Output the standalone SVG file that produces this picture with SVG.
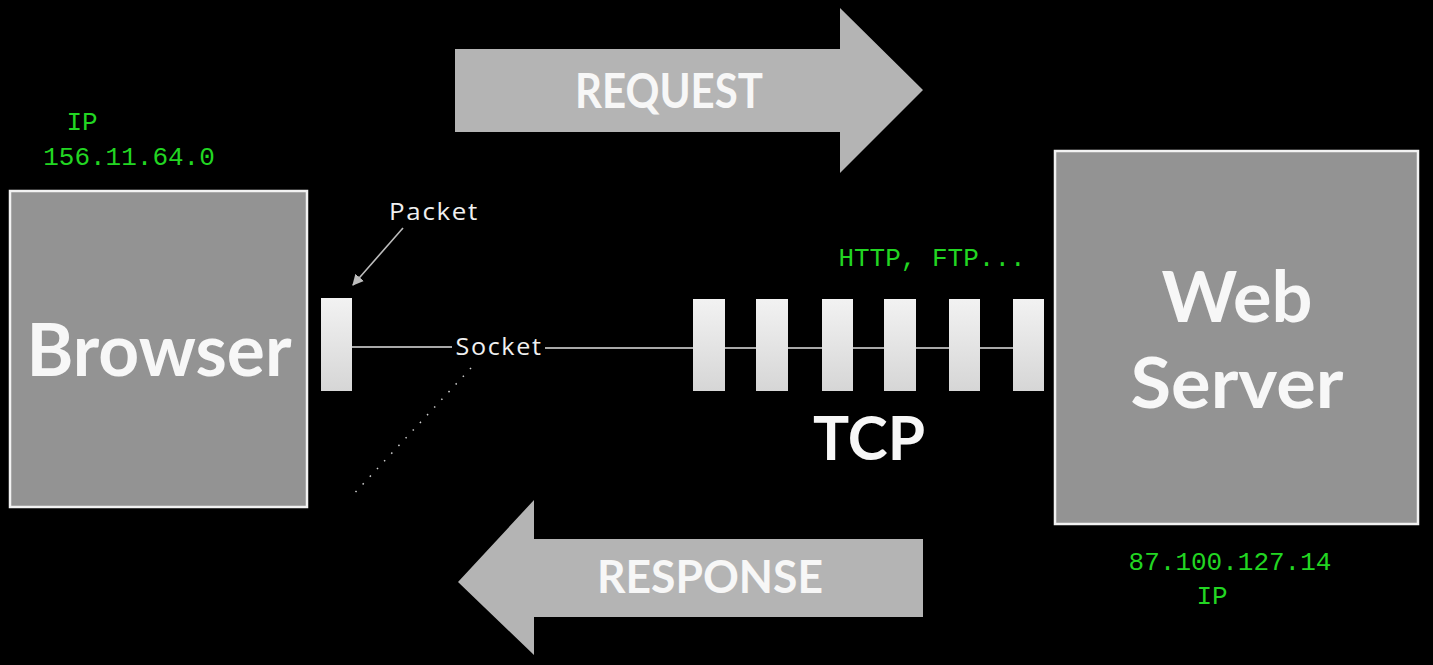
<svg xmlns="http://www.w3.org/2000/svg" width="1433" height="665" viewBox="0 0 1433 665">
<style>
.box{fill:#939393;stroke:#f2f2f2;stroke-width:2.5}
.big{font-family:Lato,"Liberation Sans",sans-serif;font-weight:bold;fill:#f7f7f7}
.mono{font-family:"Liberation Mono","DejaVu Sans Mono",monospace;fill:#22d622;font-size:26px}
.thin{font-family:"Open Sans","Liberation Sans",sans-serif;fill:#f0f0f0;font-size:23px;letter-spacing:1.5px}
.pkt{fill:url(#pg)}
.arrow{fill:#b4b4b4}
</style>
<defs>
<linearGradient id="pg" x1="0" y1="0" x2="0" y2="1">
<stop offset="0" stop-color="#f2f2f2"/>
<stop offset="1" stop-color="#d6d6d6"/>
</linearGradient>
<marker id="ah" viewBox="0 0 10 10" refX="9" refY="5" markerWidth="7" markerHeight="7" orient="auto">
<path d="M0,0 L10,5 L0,10 z" fill="#bdbdbd"/>
</marker>
</defs>
<rect width="1433" height="665" fill="#000"/>

<g id="connectors">
<line x1="352" y1="347" x2="452" y2="347" stroke="#a8a8a8" stroke-width="2"/>
<line x1="545" y1="348" x2="1013" y2="348" stroke="#a8a8a8" stroke-width="2"/>
<line x1="403" y1="228" x2="353" y2="285" stroke="#bdbdbd" stroke-width="1.6" marker-end="url(#ah)"/>
<line x1="471" y1="368" x2="350" y2="498" stroke="#cfcfcf" stroke-width="1.5" stroke-dasharray="1.5 9"/>
</g>

<g id="request">
<path class="arrow" d="M455,49 H840 V8 L923,90 L840,173 V132 H455 Z"/>
<text class="big" x="669" y="108" font-size="47" text-anchor="middle" textLength="188" lengthAdjust="spacingAndGlyphs">REQUEST</text>
</g>

<g id="response">
<path class="arrow" d="M923,539 H534 V500 L458,582 L534,655 V617 H923 Z"/>
<text class="big" x="710" y="593" font-size="45" text-anchor="middle" textLength="226" lengthAdjust="spacingAndGlyphs">RESPONSE</text>
</g>

<g id="browser">
<rect class="box" x="10" y="191" width="297" height="316"/>
<text class="big" x="159" y="376" font-size="72" text-anchor="middle" textLength="265" lengthAdjust="spacingAndGlyphs">Browser</text>
</g>

<g id="browser-ip">
<text class="mono" x="82" y="130" text-anchor="middle">IP</text>
<text class="mono" x="129" y="165" text-anchor="middle">156.11.64.0</text>
</g>

<g id="webserver">
<rect class="box" x="1055" y="151" width="363" height="373"/>
<text class="big" x="1237" y="322" font-size="70" text-anchor="middle" textLength="151" lengthAdjust="spacingAndGlyphs">Web</text>
<text class="big" x="1237" y="408" font-size="70" text-anchor="middle" textLength="213" lengthAdjust="spacingAndGlyphs">Server</text>
</g>

<g id="server-ip">
<text class="mono" x="1230" y="570" text-anchor="middle">87.100.127.14</text>
<text class="mono" x="1212" y="604" text-anchor="middle">IP</text>
</g>

<g id="packet">
<rect class="pkt" x="321" y="298" width="31" height="93"/>
<text class="thin" x="434" y="220" text-anchor="middle" textLength="90" lengthAdjust="spacingAndGlyphs">Packet</text>
</g>

<g id="socket">
<text class="thin" x="499" y="355" text-anchor="middle" textLength="87" lengthAdjust="spacingAndGlyphs">Socket</text>
</g>

<g id="tcp">
<rect class="pkt" x="693" y="299" width="32" height="92"/>
<rect class="pkt" x="756" y="299" width="32" height="92"/>
<rect class="pkt" x="822" y="299" width="31" height="92"/>
<rect class="pkt" x="884" y="299" width="32" height="92"/>
<rect class="pkt" x="949" y="299" width="31" height="92"/>
<rect class="pkt" x="1013" y="299" width="31" height="92"/>
<text class="big" x="869" y="460" font-size="62" text-anchor="middle" textLength="112" lengthAdjust="spacingAndGlyphs">TCP</text>
<text class="mono" x="932" y="266" text-anchor="middle">HTTP, FTP...</text>
</g>
</svg>
